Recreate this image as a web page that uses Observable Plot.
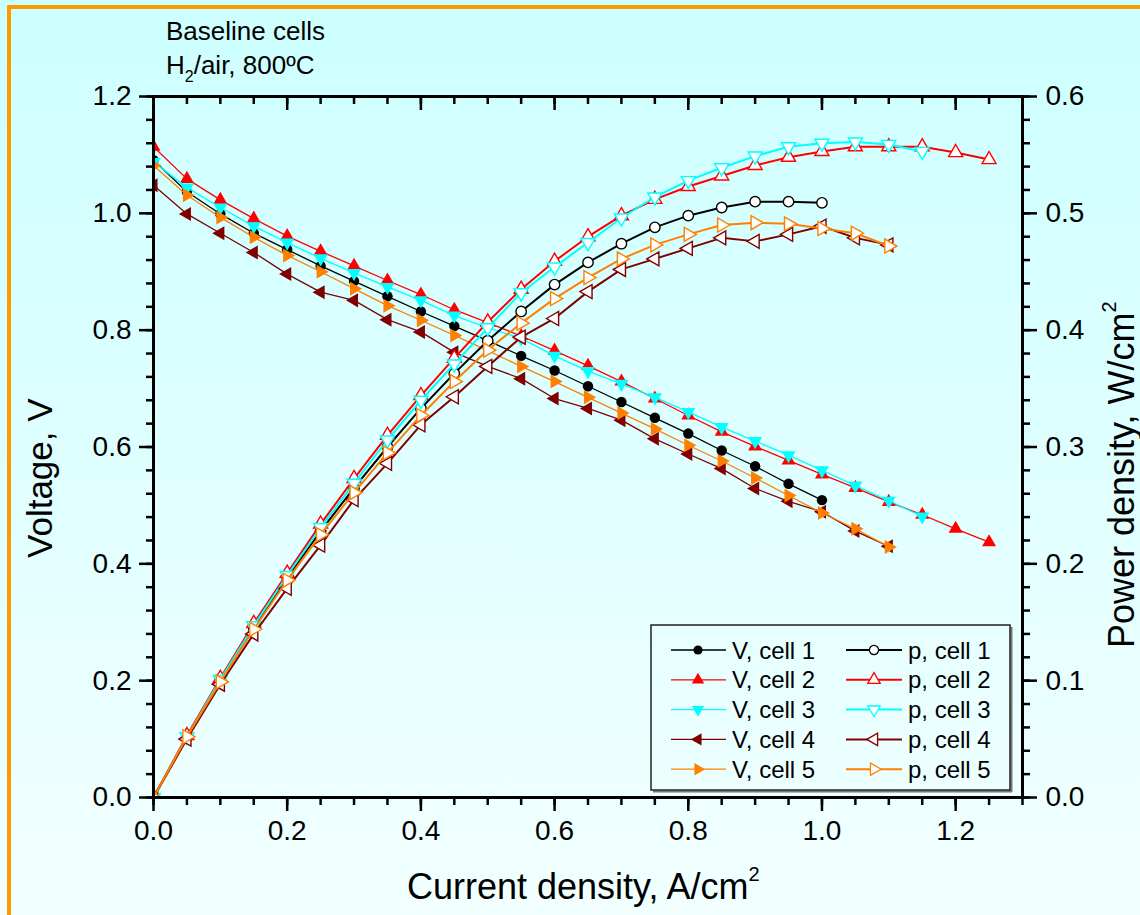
<!DOCTYPE html>
<html>
<head>
<meta charset="utf-8">
<script src="https://cdn.jsdelivr.net/npm/d3@7"></script>
<script src="https://cdn.jsdelivr.net/npm/@observablehq/plot@0.6"></script>
<style>
html, body { margin: 0; padding: 0; width: 1140px; height: 915px; overflow: hidden; }
body { position: relative; background: linear-gradient(to bottom, #ccffff, #f2ffff); font-family: "Liberation Sans", Arial, sans-serif; }
#chart { position: absolute; left: 0; top: 0; }
#border { position: absolute; left: 7px; top: 5px; width: 1300px; height: 1100px; border: 4px solid #ff9900; box-sizing: border-box; pointer-events: none; }
</style>
</head>
<body>
<div id="chart"></div>
<div id="border"></div>
<script>
// ---------------- data ----------------
const current = [0.00, 0.05, 0.10, 0.15, 0.20, 0.25, 0.30, 0.35, 0.40, 0.45, 0.50, 0.55, 0.60,
                 0.65, 0.70, 0.75, 0.80, 0.85, 0.90, 0.95, 1.00, 1.05, 1.10, 1.15, 1.20, 1.25];
const cellNames = ["cell 1", "cell 2", "cell 3", "cell 4", "cell 5"];
const cellColors = ["#000000", "#ff0000", "#00ffff", "#800000", "#ff8000"];

const vCell1 = [1.091, 1.037, 0.999, 0.966, 0.938, 0.910, 0.884, 0.858, 0.832, 0.807, 0.782, 0.756, 0.731, 0.704, 0.677, 0.650, 0.623, 0.594, 0.567, 0.537, 0.509];
const vCell2 = [1.114, 1.059, 1.023, 0.991, 0.961, 0.935, 0.910, 0.885, 0.861, 0.835, 0.813, 0.790, 0.765, 0.739, 0.712, 0.683, 0.654, 0.626, 0.601, 0.577, 0.553, 0.530, 0.506, 0.484, 0.460, 0.437];
const vCell3 = [1.088, 1.044, 1.010, 0.978, 0.950, 0.923, 0.898, 0.874, 0.851, 0.825, 0.804, 0.786, 0.756, 0.730, 0.708, 0.685, 0.660, 0.634, 0.610, 0.586, 0.560, 0.534, 0.508, 0.481];
const vCell4 = [1.048, 0.999, 0.966, 0.933, 0.896, 0.865, 0.851, 0.818, 0.797, 0.762, 0.738, 0.717, 0.683, 0.666, 0.646, 0.614, 0.588, 0.563, 0.529, 0.507, 0.489, 0.456, 0.430];
const vCell5 = [1.082, 1.031, 0.993, 0.959, 0.928, 0.900, 0.871, 0.842, 0.817, 0.791, 0.765, 0.738, 0.712, 0.685, 0.658, 0.631, 0.603, 0.576, 0.547, 0.517, 0.487, 0.460, 0.429];

const pCell1 = [0, 0.052, 0.100, 0.145, 0.188, 0.228, 0.265, 0.300, 0.333, 0.363, 0.391, 0.416, 0.439, 0.458, 0.474, 0.488, 0.498, 0.505, 0.510, 0.510, 0.509];
const pCell2 = [0, 0.053, 0.102, 0.149, 0.192, 0.234, 0.273, 0.310, 0.344, 0.376, 0.407, 0.435, 0.459, 0.480, 0.498, 0.512, 0.523, 0.532, 0.541, 0.548, 0.553, 0.557, 0.557, 0.557, 0.552, 0.546];
const pCell3 = [0, 0.052, 0.101, 0.147, 0.190, 0.231, 0.269, 0.306, 0.340, 0.371, 0.402, 0.432, 0.454, 0.475, 0.496, 0.514, 0.528, 0.539, 0.549, 0.557, 0.560, 0.561, 0.559, 0.553];
const pCell4 = [0, 0.050, 0.097, 0.140, 0.179, 0.216, 0.255, 0.286, 0.319, 0.343, 0.369, 0.394, 0.410, 0.433, 0.452, 0.461, 0.470, 0.479, 0.476, 0.482, 0.489, 0.479, 0.473];
const pCell5 = [0, 0.052, 0.099, 0.144, 0.186, 0.225, 0.261, 0.295, 0.327, 0.356, 0.383, 0.406, 0.427, 0.445, 0.461, 0.473, 0.482, 0.490, 0.492, 0.491, 0.487, 0.483, 0.472];

const currentTicks = [0.0, 0.2, 0.4, 0.6, 0.8, 1.0, 1.2];
const voltageTicks = [0.0, 0.2, 0.4, 0.6, 0.8, 1.0, 1.2];
const powerTicks = [0.0, 0.1, 0.2, 0.3, 0.4, 0.5, 0.6];

const titleLine1 = "Baseline cells";
const xTitle = "Current density, A/cm";
const yTitle = "Voltage, V";
const y2Title = "Power density, W/cm";

// ---------------- helpers ----------------
const FONT = '"Liberation Sans", Arial, Helvetica, sans-serif';
const P_TO_Y = 2; // power axis (0..0.6) shares the voltage frame (0..1.2)
const fmt = d3.format(".1f");

function triangle(rot) {
  return {
    draw(ctx, size) {
      const y = -Math.sqrt(size / (Math.sqrt(3) * 3));
      let pts = [[0, y * 2], [-Math.sqrt(3) * y, -y], [Math.sqrt(3) * y, -y]];
      pts = pts.map(([a, b]) => rot === "down" ? [-a, -b] : rot === "right" ? [-b, a] : rot === "left" ? [b, -a] : [a, b]);
      ctx.moveTo(pts[0][0], pts[0][1]);
      ctx.lineTo(pts[1][0], pts[1][1]);
      ctx.lineTo(pts[2][0], pts[2][1]);
      ctx.closePath();
    }
  };
}
const symbols = [d3.symbolCircle, triangle("up"), triangle("down"), triangle("left"), triangle("right")];

const vSeries = [vCell1, vCell2, vCell3, vCell4, vCell5];
const pSeries = [pCell1, pCell2, pCell3, pCell4, pCell5];
const cellRows = vSeries.map((vs, k) => vs.map((v, j) => ({cell: cellNames[k], i: current[j], v, p: pSeries[k][j]})));

const yMinor = d3.range(0, 1.2001, 0.04);
const xMinor = d3.range(0, 1.3001, 0.05);
const frameH = 915 - 96 - 118;

const marks = [];
cellRows.forEach((rows, k) => {
  marks.push(Plot.line(rows, {x: "i", y: "v", stroke: cellColors[k], strokeWidth: 1.3, clip: true}));
  marks.push(Plot.dot(rows, {x: "i", y: "v", fill: cellColors[k], symbol: symbols[k], r: 5.2, clip: true}));
});
cellRows.forEach((rows, k) => {
  marks.push(Plot.line(rows, {x: "i", y: d => d.p * P_TO_Y, stroke: cellColors[k], strokeWidth: 2, clip: true}));
  marks.push(Plot.dot(rows, {x: "i", y: d => d.p * P_TO_Y, fill: "white", stroke: cellColors[k], strokeWidth: 1.4, symbol: symbols[k], r: 5.2, clip: true}));
});

const axisStyle = {strokeWidth: 2.5, label: null, fontSize: 28, fontFamily: FONT};
marks.push(
  Plot.axisY({anchor: "left", ticks: voltageTicks, tickSize: 14, tickPadding: 8, tickFormat: fmt, ...axisStyle}),
  Plot.axisY({anchor: "left", ticks: yMinor, tickSize: 7, tickFormat: () => "", ...axisStyle}),
  Plot.axisY({anchor: "right", ticks: powerTicks.map(p => p * P_TO_Y), tickSize: 14, tickPadding: 9, tickFormat: d => fmt(d / P_TO_Y), ...axisStyle}),
  Plot.axisY({anchor: "right", ticks: yMinor, tickSize: 7, tickFormat: () => "", ...axisStyle}),
  Plot.axisX({anchor: "bottom", ticks: currentTicks, tickSize: 14, tickPadding: 9, tickFormat: fmt, ...axisStyle}),
  Plot.axisX({anchor: "bottom", ticks: xMinor, tickSize: 8, tickFormat: () => "", ...axisStyle}),
  Plot.tickX(currentTicks, {x: d => d, insetBottom: frameH - 14, stroke: "black", strokeWidth: 2.5}),
  Plot.tickX(xMinor, {x: d => d, insetBottom: frameH - 8, stroke: "black", strokeWidth: 2.5}),
  Plot.frame({stroke: "black", strokeWidth: 3})
);

const plot = Plot.plot({
  width: 1140, height: 915,
  marginLeft: 153, marginRight: 118, marginTop: 96, marginBottom: 118,
  style: {background: "transparent", fontFamily: FONT, color: "black", overflow: "visible"},
  x: {domain: [0, 1.3]},
  y: {domain: [0, 1.2]},
  marks
});
document.getElementById("chart").appendChild(plot);

// ---------------- texts & legend ----------------
const svg = d3.select(plot);
const g = svg.append("g").attr("font-family", FONT).attr("fill", "black").attr("text-anchor", "start");

g.append("text").attr("x", 166).attr("y", 40).attr("font-size", 26).text(titleLine1);
const t2 = g.append("text").attr("x", 166).attr("y", 74).attr("font-size", 26);
t2.append("tspan").text("H");
t2.append("tspan").attr("font-size", 16).attr("dy", 8).text("2");
t2.append("tspan").attr("dy", -8).text("/air, 800ºC");

const xt = g.append("text").attr("x", 407).attr("y", 899).attr("font-size", 36);
xt.append("tspan").text(xTitle);
xt.append("tspan").attr("font-size", 20).attr("dy", -18).text("2");

g.append("text").attr("transform", "translate(52,558) rotate(-90)").attr("font-size", 35).text(yTitle);

const yt2 = g.append("text").attr("transform", "translate(1134,648) rotate(-90)").attr("font-size", 36);
yt2.append("tspan").text(y2Title);
yt2.append("tspan").attr("font-size", 20).attr("dy", -18).text("2");

// legend
const lg = svg.append("g").attr("font-family", FONT).attr("text-anchor", "start");
lg.append("line").attr("x1", 653).attr("x2", 1012).attr("y1", 791.5).attr("y2", 791.5).attr("stroke", "#777").attr("stroke-width", 2);
lg.append("line").attr("x1", 1011.5).attr("x2", 1011.5).attr("y1", 627).attr("y2", 792).attr("stroke", "#777").attr("stroke-width", 2);
lg.append("rect").attr("x", 651).attr("y", 625).attr("width", 359).attr("height", 165)
  .attr("fill", "none").attr("stroke", "#222").attr("stroke-width", 1.5);
cellNames.forEach((name, k) => {
  const cy = 650 + k * 29.8;
  [["V", 671, 726, 698, 732, 1.3, cellColors[k]], ["p", 846, 902, 874, 908, 2, "white"]].forEach(([q, x1, x2, mx, tx, sw, fill]) => {
    lg.append("line").attr("x1", x1).attr("x2", x2).attr("y1", cy).attr("y2", cy).attr("stroke", cellColors[k]).attr("stroke-width", sw);
    lg.append("path").attr("transform", `translate(${mx},${cy})`)
      .attr("d", d3.symbol().type(symbols[k]).size(Math.PI * 4.6 * 4.6)())
      .attr("fill", fill).attr("stroke", q === "V" ? "none" : cellColors[k]).attr("stroke-width", 1.3);
    lg.append("text").attr("x", tx).attr("y", cy + 8.5).attr("font-size", 24).attr("fill", "black").text(`${q}, ${name}`);
  });
});
</script>
</body>
</html>
